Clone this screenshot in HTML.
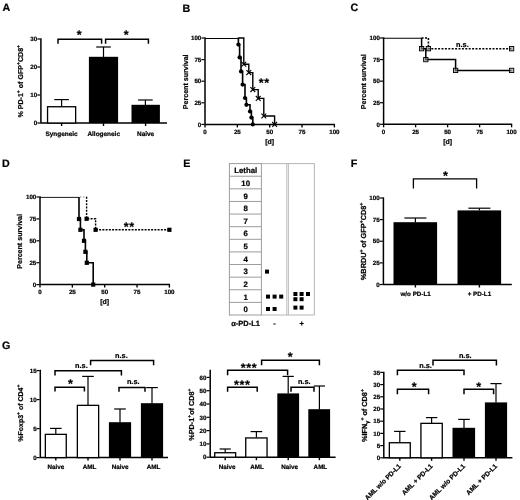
<!DOCTYPE html>
<html lang="en"><head><meta charset="utf-8"><title>Figure</title>
<style>
html,body{margin:0;padding:0;background:#fff;}
body{width:520px;height:500px;overflow:hidden;}
svg{display:block;text-rendering:geometricPrecision;font-family:"Liberation Sans",Arial,Helvetica,sans-serif;font-weight:bold;}
</style></head><body>
<svg width="520" height="500" viewBox="0 0 520 500" stroke="#000" fill="#000">
<defs><filter id="soft" x="0" y="0" width="520" height="500" filterUnits="userSpaceOnUse"><feGaussianBlur stdDeviation="0.35"/></filter></defs>
<rect x="0" y="0" width="520" height="500" fill="#fff" stroke="none"/>
<g id="fig" filter="url(#soft)">
<text stroke="#000" stroke-width="0.22" x="2.50" y="10.70" font-size="10.7" text-anchor="start" >A</text>
<text stroke="#000" stroke-width="0.22" x="182.40" y="12.20" font-size="10.7" text-anchor="start" >B</text>
<text stroke="#000" stroke-width="0.22" x="350.40" y="11.20" font-size="10.7" text-anchor="start" >C</text>
<text stroke="#000" stroke-width="0.22" x="1.90" y="167.10" font-size="10.7" text-anchor="start" >D</text>
<text stroke="#000" stroke-width="0.22" x="183.20" y="167.20" font-size="10.7" text-anchor="start" >E</text>
<text stroke="#000" stroke-width="0.22" x="350.80" y="167.20" font-size="10.7" text-anchor="start" >F</text>
<text stroke="#000" stroke-width="0.22" x="2.00" y="349.20" font-size="10.7" text-anchor="start" >G</text>
<path d="M40.90 38.25V123.00H167.00" stroke-width="1.5" fill="none" stroke-linejoin="miter"/>
<line x1="37.30" y1="39.00" x2="40.30" y2="39.00" stroke-width="1.2" />
<text stroke="#000" stroke-width="0.22" x="37.20" y="41.23" font-size="6.2" text-anchor="end" >30</text>
<line x1="37.30" y1="67.00" x2="40.30" y2="67.00" stroke-width="1.2" />
<text stroke="#000" stroke-width="0.22" x="37.20" y="69.23" font-size="6.2" text-anchor="end" >20</text>
<line x1="37.30" y1="95.00" x2="40.30" y2="95.00" stroke-width="1.2" />
<text stroke="#000" stroke-width="0.22" x="37.20" y="97.23" font-size="6.2" text-anchor="end" >10</text>
<line x1="37.30" y1="123.00" x2="40.30" y2="123.00" stroke-width="1.2" />
<text stroke="#000" stroke-width="0.22" x="37.20" y="125.23" font-size="6.2" text-anchor="end" >0</text>
<line x1="61.60" y1="123.00" x2="61.60" y2="126.00" stroke-width="1.4" />
<line x1="103.50" y1="123.00" x2="103.50" y2="126.00" stroke-width="1.4" />
<line x1="145.60" y1="123.00" x2="145.60" y2="126.00" stroke-width="1.4" />
<line x1="61.60" y1="99.60" x2="61.60" y2="106.40" stroke-width="1.2" />
<line x1="54.30" y1="99.60" x2="68.90" y2="99.60" stroke-width="1.2" />
<rect x="47.55" y="106.75" width="28.10" height="16.25" fill="#fff" stroke-width="1.3" />
<line x1="103.50" y1="47.00" x2="103.50" y2="57.00" stroke-width="1.2" />
<line x1="96.20" y1="47.00" x2="110.80" y2="47.00" stroke-width="1.2" />
<rect x="88.90" y="56.80" width="29.20" height="66.20" fill="#000" stroke-width="0" stroke="none"/>
<line x1="145.40" y1="100.00" x2="145.40" y2="105.00" stroke-width="1.2" />
<line x1="138.10" y1="100.00" x2="152.70" y2="100.00" stroke-width="1.2" />
<rect x="131.50" y="104.80" width="28.40" height="18.20" fill="#000" stroke-width="0" stroke="none"/>
<text stroke="#000" stroke-width="0.22" x="61.60" y="135.60" font-size="6.45" text-anchor="middle" >Syngeneic</text>
<text stroke="#000" stroke-width="0.22" x="103.70" y="135.60" font-size="6.45" text-anchor="middle" >Allogeneic</text>
<text stroke="#000" stroke-width="0.22" x="145.60" y="135.60" font-size="6.45" text-anchor="middle" >Naive</text>
<path d="M58.00 43.80V39.30H101.60V43.80" stroke-width="1.5" fill="none" />
<path d="M105.60 43.80V39.30H148.40V43.80" stroke-width="1.5" fill="none" />
<text stroke="#000" stroke-width="0.22" x="79.20" y="39.48" font-size="12.5" text-anchor="middle" >*</text>
<text stroke="#000" stroke-width="0.22" x="126.20" y="39.48" font-size="12.5" text-anchor="middle" >*</text>
<text stroke="#000" stroke-width="0.22" x="23.40" y="81.30" font-size="7.1" text-anchor="middle" transform="rotate(-90 23.40 81.30)" >% PD-1<tspan font-size="4.97" dy="-2.98">+</tspan><tspan font-size="7.1" dy="2.98">​</tspan> of GFP<tspan font-size="4.97" dy="-2.98">+</tspan><tspan font-size="7.1" dy="2.98">​</tspan>CD8<tspan font-size="4.97" dy="-2.98">+</tspan><tspan font-size="7.1" dy="2.98">​</tspan></text>
<path d="M205.00 37.25V124.40H335.00" stroke-width="1.5" fill="none" stroke-linejoin="miter"/>
<line x1="201.40" y1="38.00" x2="204.40" y2="38.00" stroke-width="1.2" />
<text stroke="#000" stroke-width="0.22" x="201.30" y="40.23" font-size="6.2" text-anchor="end" >100</text>
<line x1="201.40" y1="59.60" x2="204.40" y2="59.60" stroke-width="1.2" />
<text stroke="#000" stroke-width="0.22" x="201.30" y="61.83" font-size="6.2" text-anchor="end" >75</text>
<line x1="201.40" y1="81.20" x2="204.40" y2="81.20" stroke-width="1.2" />
<text stroke="#000" stroke-width="0.22" x="201.30" y="83.43" font-size="6.2" text-anchor="end" >50</text>
<line x1="201.40" y1="102.80" x2="204.40" y2="102.80" stroke-width="1.2" />
<text stroke="#000" stroke-width="0.22" x="201.30" y="105.03" font-size="6.2" text-anchor="end" >25</text>
<line x1="201.40" y1="124.40" x2="204.40" y2="124.40" stroke-width="1.2" />
<text stroke="#000" stroke-width="0.22" x="201.30" y="126.63" font-size="6.2" text-anchor="end" >0</text>
<line x1="205.00" y1="124.40" x2="205.00" y2="127.40" stroke-width="1.35" />
<text stroke="#000" stroke-width="0.22" x="205.00" y="133.90" font-size="6.2" text-anchor="middle" >0</text>
<line x1="237.35" y1="124.40" x2="237.35" y2="127.40" stroke-width="1.35" />
<text stroke="#000" stroke-width="0.22" x="237.35" y="133.90" font-size="6.2" text-anchor="middle" >25</text>
<line x1="269.70" y1="124.40" x2="269.70" y2="127.40" stroke-width="1.35" />
<text stroke="#000" stroke-width="0.22" x="269.70" y="133.90" font-size="6.2" text-anchor="middle" >50</text>
<line x1="302.05" y1="124.40" x2="302.05" y2="127.40" stroke-width="1.35" />
<text stroke="#000" stroke-width="0.22" x="302.05" y="133.90" font-size="6.2" text-anchor="middle" >75</text>
<line x1="334.40" y1="124.40" x2="334.40" y2="127.40" stroke-width="1.35" />
<text stroke="#000" stroke-width="0.22" x="334.40" y="133.90" font-size="6.2" text-anchor="middle" >100</text>
<text stroke="#000" stroke-width="0.22" x="269.60" y="143.80" font-size="6.9" text-anchor="middle" >[d]</text>
<text stroke="#000" stroke-width="0.22" x="187.90" y="81.80" font-size="7.1" text-anchor="middle" transform="rotate(-90 187.90 81.80)" >Percent survival</text>
<line x1="205.00" y1="38.50" x2="238.40" y2="38.50" stroke-width="1.0" />
<path d="M238.40 37.50H238.40V44.60H239.60V57.40H241.00V71.40H242.60V84.60H245.00V98.00H246.40V104.80H250.00V111.40H251.40V117.60H252.80V124.40" stroke-width="1.6" fill="none" />
<circle cx="238.40" cy="44.60" r="2.1" stroke="none"/>
<circle cx="239.60" cy="57.40" r="2.1" stroke="none"/>
<circle cx="241.00" cy="71.40" r="2.1" stroke="none"/>
<circle cx="242.60" cy="84.60" r="2.1" stroke="none"/>
<circle cx="245.00" cy="98.00" r="2.1" stroke="none"/>
<circle cx="246.40" cy="104.80" r="2.1" stroke="none"/>
<circle cx="250.00" cy="111.40" r="2.1" stroke="none"/>
<circle cx="251.40" cy="117.60" r="2.1" stroke="none"/>
<circle cx="252.80" cy="124.40" r="2.1" stroke="none"/>
<path d="M238.40 38.00H243.80V64.20H248.80V72.60H252.80V89.60H258.20V98.40H263.80V116.00H274.60V124.40" stroke-width="1.4" fill="none" />
<path d="M241.40 61.80L246.20 66.60M241.40 66.60L246.20 61.80" stroke-width="1.1" fill="none" />
<path d="M246.40 70.20L251.20 75.00M246.40 75.00L251.20 70.20" stroke-width="1.1" fill="none" />
<path d="M250.40 87.20L255.20 92.00M250.40 92.00L255.20 87.20" stroke-width="1.1" fill="none" />
<path d="M255.80 96.00L260.60 100.80M255.80 100.80L260.60 96.00" stroke-width="1.1" fill="none" />
<path d="M261.40 113.60L266.20 118.40M261.40 118.40L266.20 113.60" stroke-width="1.1" fill="none" />
<path d="M272.20 122.00L277.00 126.80M272.20 126.80L277.00 122.00" stroke-width="1.1" fill="none" />
<text stroke="#000" stroke-width="0.22" x="264.20" y="87.47" font-size="12.5" text-anchor="middle" letter-spacing="0.6">**</text>
<path d="M383.60 37.25V124.30H512.20" stroke-width="1.5" fill="none" stroke-linejoin="miter"/>
<line x1="380.00" y1="38.00" x2="383.00" y2="38.00" stroke-width="1.2" />
<text stroke="#000" stroke-width="0.22" x="379.90" y="40.23" font-size="6.2" text-anchor="end" >100</text>
<line x1="380.00" y1="59.58" x2="383.00" y2="59.58" stroke-width="1.2" />
<text stroke="#000" stroke-width="0.22" x="379.90" y="61.81" font-size="6.2" text-anchor="end" >75</text>
<line x1="380.00" y1="81.15" x2="383.00" y2="81.15" stroke-width="1.2" />
<text stroke="#000" stroke-width="0.22" x="379.90" y="83.38" font-size="6.2" text-anchor="end" >50</text>
<line x1="380.00" y1="102.72" x2="383.00" y2="102.72" stroke-width="1.2" />
<text stroke="#000" stroke-width="0.22" x="379.90" y="104.96" font-size="6.2" text-anchor="end" >25</text>
<line x1="380.00" y1="124.30" x2="383.00" y2="124.30" stroke-width="1.2" />
<text stroke="#000" stroke-width="0.22" x="379.90" y="126.53" font-size="6.2" text-anchor="end" >0</text>
<line x1="383.60" y1="124.30" x2="383.60" y2="127.30" stroke-width="1.35" />
<text stroke="#000" stroke-width="0.22" x="383.60" y="133.80" font-size="6.2" text-anchor="middle" >0</text>
<line x1="415.60" y1="124.30" x2="415.60" y2="127.30" stroke-width="1.35" />
<text stroke="#000" stroke-width="0.22" x="415.60" y="133.80" font-size="6.2" text-anchor="middle" >25</text>
<line x1="447.60" y1="124.30" x2="447.60" y2="127.30" stroke-width="1.35" />
<text stroke="#000" stroke-width="0.22" x="447.60" y="133.80" font-size="6.2" text-anchor="middle" >50</text>
<line x1="479.60" y1="124.30" x2="479.60" y2="127.30" stroke-width="1.35" />
<text stroke="#000" stroke-width="0.22" x="479.60" y="133.80" font-size="6.2" text-anchor="middle" >75</text>
<line x1="511.60" y1="124.30" x2="511.60" y2="127.30" stroke-width="1.35" />
<text stroke="#000" stroke-width="0.22" x="511.60" y="133.80" font-size="6.2" text-anchor="middle" >100</text>
<text stroke="#000" stroke-width="0.22" x="447.60" y="143.70" font-size="6.9" text-anchor="middle" >[d]</text>
<text stroke="#000" stroke-width="0.22" x="365.80" y="81.75" font-size="7.1" text-anchor="middle" transform="rotate(-90 365.80 81.75)" >Percent survival</text>
<line x1="383.60" y1="38.30" x2="421.60" y2="38.30" stroke-width="1.1" />
<path d="M421.60 37.80H421.60V48.70H425.80V59.60H455.60V70.40H511.60V70.40" stroke-width="1.5" fill="none" />
<path d="M421.60 38.00H428.40V48.70H511.60V48.70" stroke-width="1.6" fill="none" stroke-dasharray="2 1.4"/>
<rect x="419.45" y="46.55" width="4.30" height="4.30" fill="#909090" stroke-width="0.9" fill-opacity="0.6"/>
<rect x="423.65" y="57.45" width="4.30" height="4.30" fill="#909090" stroke-width="0.9" fill-opacity="0.6"/>
<rect x="453.45" y="68.25" width="4.30" height="4.30" fill="#909090" stroke-width="0.9" fill-opacity="0.6"/>
<rect x="509.45" y="68.25" width="4.30" height="4.30" fill="#909090" stroke-width="0.9" fill-opacity="0.6"/>
<rect x="426.25" y="46.55" width="4.30" height="4.30" fill="#909090" stroke-width="0.9" fill-opacity="0.6"/>
<rect x="509.45" y="46.55" width="4.30" height="4.30" fill="#909090" stroke-width="0.9" fill-opacity="0.6"/>
<text stroke="#000" stroke-width="0.22" x="462.40" y="46.60" font-size="7.3" text-anchor="middle" >n.s.</text>
<path d="M40.00 196.25V284.60H170.00" stroke-width="1.5" fill="none" stroke-linejoin="miter"/>
<line x1="36.40" y1="197.00" x2="39.40" y2="197.00" stroke-width="1.2" />
<text stroke="#000" stroke-width="0.22" x="36.30" y="199.23" font-size="6.2" text-anchor="end" >100</text>
<line x1="36.40" y1="218.90" x2="39.40" y2="218.90" stroke-width="1.2" />
<text stroke="#000" stroke-width="0.22" x="36.30" y="221.13" font-size="6.2" text-anchor="end" >75</text>
<line x1="36.40" y1="240.80" x2="39.40" y2="240.80" stroke-width="1.2" />
<text stroke="#000" stroke-width="0.22" x="36.30" y="243.03" font-size="6.2" text-anchor="end" >50</text>
<line x1="36.40" y1="262.70" x2="39.40" y2="262.70" stroke-width="1.2" />
<text stroke="#000" stroke-width="0.22" x="36.30" y="264.93" font-size="6.2" text-anchor="end" >25</text>
<line x1="36.40" y1="284.60" x2="39.40" y2="284.60" stroke-width="1.2" />
<text stroke="#000" stroke-width="0.22" x="36.30" y="286.83" font-size="6.2" text-anchor="end" >0</text>
<line x1="40.00" y1="284.60" x2="40.00" y2="287.60" stroke-width="1.35" />
<text stroke="#000" stroke-width="0.22" x="40.00" y="294.10" font-size="6.2" text-anchor="middle" >0</text>
<line x1="72.35" y1="284.60" x2="72.35" y2="287.60" stroke-width="1.35" />
<text stroke="#000" stroke-width="0.22" x="72.35" y="294.10" font-size="6.2" text-anchor="middle" >25</text>
<line x1="104.70" y1="284.60" x2="104.70" y2="287.60" stroke-width="1.35" />
<text stroke="#000" stroke-width="0.22" x="104.70" y="294.10" font-size="6.2" text-anchor="middle" >50</text>
<line x1="137.05" y1="284.60" x2="137.05" y2="287.60" stroke-width="1.35" />
<text stroke="#000" stroke-width="0.22" x="137.05" y="294.10" font-size="6.2" text-anchor="middle" >75</text>
<line x1="169.40" y1="284.60" x2="169.40" y2="287.60" stroke-width="1.35" />
<text stroke="#000" stroke-width="0.22" x="169.40" y="294.10" font-size="6.2" text-anchor="middle" >100</text>
<text stroke="#000" stroke-width="0.22" x="104.60" y="304.00" font-size="6.9" text-anchor="middle" >[d]</text>
<text stroke="#000" stroke-width="0.22" x="22.30" y="241.40" font-size="7.1" text-anchor="middle" transform="rotate(-90 22.30 241.40)" >Percent survival</text>
<line x1="40.00" y1="197.40" x2="79.00" y2="197.40" stroke-width="0.9" />
<path d="M79.00 196.90H79.00V219.00H80.40V229.80H84.00V240.80H85.40V251.80H86.80V262.80H93.20V284.60" stroke-width="1.6" fill="none" />
<line x1="80.00" y1="197.00" x2="86.60" y2="197.00" stroke-width="1.0" stroke="#8a8a8a" stroke-dasharray="1.4 1.6"/>
<path d="M86.60 196.80H86.60V218.80H95.60V229.80H169.40V229.80" stroke-width="1.4" fill="none" stroke-dasharray="2 1.25"/>
<rect x="76.90" y="216.90" width="4.20" height="4.20" fill="#000" stroke-width="0" stroke="none"/>
<rect x="78.30" y="227.70" width="4.20" height="4.20" fill="#000" stroke-width="0" stroke="none"/>
<rect x="81.90" y="238.70" width="4.20" height="4.20" fill="#000" stroke-width="0" stroke="none"/>
<rect x="83.30" y="249.70" width="4.20" height="4.20" fill="#000" stroke-width="0" stroke="none"/>
<rect x="84.70" y="260.70" width="4.20" height="4.20" fill="#000" stroke-width="0" stroke="none"/>
<rect x="91.10" y="282.50" width="4.20" height="4.20" fill="#000" stroke-width="0" stroke="none"/>
<rect x="84.50" y="216.70" width="4.20" height="4.20" fill="#000" stroke-width="0" stroke="none"/>
<rect x="93.50" y="227.70" width="4.20" height="4.20" fill="#000" stroke-width="0" stroke="none"/>
<rect x="167.30" y="227.70" width="4.20" height="4.20" fill="#000" stroke-width="0" stroke="none"/>
<text stroke="#000" stroke-width="0.22" x="129.20" y="231.07" font-size="12.5" text-anchor="middle" letter-spacing="0.6">**</text>
<g stroke="#b4b4b4" fill="none">
<line x1="261.40" y1="163.60" x2="314.40" y2="163.60" stroke-width="1.0" />
<line x1="261.40" y1="315.00" x2="314.40" y2="315.00" stroke-width="1.0" />
<line x1="314.40" y1="163.60" x2="314.40" y2="315.00" stroke-width="1.0" />
<line x1="286.80" y1="163.60" x2="286.80" y2="315.00" stroke-width="0.9" />
<line x1="288.40" y1="163.60" x2="288.40" y2="315.00" stroke-width="0.9" />
</g>
<g stroke="#9c9c9c" fill="none">
<line x1="229.40" y1="163.60" x2="261.40" y2="163.60" stroke-width="1.0" />
<line x1="229.40" y1="315.00" x2="261.40" y2="315.00" stroke-width="1.0" />
<line x1="229.40" y1="163.10" x2="229.40" y2="315.50" stroke-width="1.0" />
<line x1="261.40" y1="163.10" x2="261.40" y2="315.50" stroke-width="1.0" />
<line x1="229.40" y1="176.22" x2="261.40" y2="176.22" stroke-width="1.0" />
<line x1="229.40" y1="188.83" x2="261.40" y2="188.83" stroke-width="1.0" />
<line x1="229.40" y1="201.45" x2="261.40" y2="201.45" stroke-width="1.0" />
<line x1="229.40" y1="214.07" x2="261.40" y2="214.07" stroke-width="1.0" />
<line x1="229.40" y1="226.68" x2="261.40" y2="226.68" stroke-width="1.0" />
<line x1="229.40" y1="239.30" x2="261.40" y2="239.30" stroke-width="1.0" />
<line x1="229.40" y1="251.92" x2="261.40" y2="251.92" stroke-width="1.0" />
<line x1="229.40" y1="264.53" x2="261.40" y2="264.53" stroke-width="1.0" />
<line x1="229.40" y1="277.15" x2="261.40" y2="277.15" stroke-width="1.0" />
<line x1="229.40" y1="289.77" x2="261.40" y2="289.77" stroke-width="1.0" />
<line x1="229.40" y1="302.38" x2="261.40" y2="302.38" stroke-width="1.0" />
</g>
<text stroke="#000" stroke-width="0.22" x="245.70" y="173.41" font-size="7.8" text-anchor="middle" >Lethal</text>
<text stroke="#000" stroke-width="0.22" x="245.70" y="186.03" font-size="7.8" text-anchor="middle" >10</text>
<text stroke="#000" stroke-width="0.22" x="245.70" y="198.64" font-size="7.8" text-anchor="middle" >9</text>
<text stroke="#000" stroke-width="0.22" x="245.70" y="211.26" font-size="7.8" text-anchor="middle" >8</text>
<text stroke="#000" stroke-width="0.22" x="245.70" y="223.88" font-size="7.8" text-anchor="middle" >7</text>
<text stroke="#000" stroke-width="0.22" x="245.70" y="236.49" font-size="7.8" text-anchor="middle" >6</text>
<text stroke="#000" stroke-width="0.22" x="245.70" y="249.11" font-size="7.8" text-anchor="middle" >5</text>
<text stroke="#000" stroke-width="0.22" x="245.70" y="261.72" font-size="7.8" text-anchor="middle" >4</text>
<text stroke="#000" stroke-width="0.22" x="245.70" y="274.34" font-size="7.8" text-anchor="middle" >3</text>
<text stroke="#000" stroke-width="0.22" x="245.70" y="286.96" font-size="7.8" text-anchor="middle" >2</text>
<text stroke="#000" stroke-width="0.22" x="245.70" y="299.57" font-size="7.8" text-anchor="middle" >1</text>
<text stroke="#000" stroke-width="0.22" x="245.70" y="312.19" font-size="7.8" text-anchor="middle" >0</text>
<rect x="265.00" y="269.60" width="4.00" height="4.00" fill="#000" stroke-width="0" stroke="none"/>
<rect x="266.00" y="294.60" width="4.00" height="4.00" fill="#000" stroke-width="0" stroke="none"/>
<rect x="272.60" y="294.60" width="4.00" height="4.00" fill="#000" stroke-width="0" stroke="none"/>
<rect x="279.20" y="294.60" width="4.00" height="4.00" fill="#000" stroke-width="0" stroke="none"/>
<rect x="266.00" y="307.00" width="4.00" height="4.00" fill="#000" stroke-width="0" stroke="none"/>
<rect x="272.60" y="307.00" width="4.00" height="4.00" fill="#000" stroke-width="0" stroke="none"/>
<rect x="293.40" y="292.00" width="4.00" height="4.00" fill="#000" stroke-width="0" stroke="none"/>
<rect x="299.60" y="292.00" width="4.00" height="4.00" fill="#000" stroke-width="0" stroke="none"/>
<rect x="306.00" y="292.00" width="4.00" height="4.00" fill="#000" stroke-width="0" stroke="none"/>
<rect x="293.40" y="297.20" width="4.00" height="4.00" fill="#000" stroke-width="0" stroke="none"/>
<rect x="299.60" y="297.20" width="4.00" height="4.00" fill="#000" stroke-width="0" stroke="none"/>
<rect x="293.40" y="305.60" width="4.00" height="4.00" fill="#000" stroke-width="0" stroke="none"/>
<rect x="299.60" y="305.60" width="4.00" height="4.00" fill="#000" stroke-width="0" stroke="none"/>
<text stroke="#000" stroke-width="0.22" x="245.60" y="326.00" font-size="7.5" text-anchor="middle" >α-PD-L1</text>
<text stroke="#000" stroke-width="0.22" x="274.40" y="326.00" font-size="7.5" text-anchor="middle" >-</text>
<text stroke="#000" stroke-width="0.22" x="301.60" y="326.00" font-size="7.5" text-anchor="middle" >+</text>
<path d="M383.40 197.25V284.50H511.80" stroke-width="1.5" fill="none" stroke-linejoin="miter"/>
<line x1="379.80" y1="198.00" x2="382.80" y2="198.00" stroke-width="1.2" />
<text stroke="#000" stroke-width="0.22" x="379.70" y="200.23" font-size="6.2" text-anchor="end" >100</text>
<line x1="379.80" y1="219.62" x2="382.80" y2="219.62" stroke-width="1.2" />
<text stroke="#000" stroke-width="0.22" x="379.70" y="221.86" font-size="6.2" text-anchor="end" >75</text>
<line x1="379.80" y1="241.25" x2="382.80" y2="241.25" stroke-width="1.2" />
<text stroke="#000" stroke-width="0.22" x="379.70" y="243.48" font-size="6.2" text-anchor="end" >50</text>
<line x1="379.80" y1="262.88" x2="382.80" y2="262.88" stroke-width="1.2" />
<text stroke="#000" stroke-width="0.22" x="379.70" y="265.11" font-size="6.2" text-anchor="end" >25</text>
<line x1="379.80" y1="284.50" x2="382.80" y2="284.50" stroke-width="1.2" />
<text stroke="#000" stroke-width="0.22" x="379.70" y="286.73" font-size="6.2" text-anchor="end" >0</text>
<line x1="415.40" y1="284.50" x2="415.40" y2="287.50" stroke-width="1.4" />
<line x1="479.40" y1="284.50" x2="479.40" y2="287.50" stroke-width="1.4" />
<line x1="415.40" y1="218.00" x2="415.40" y2="222.40" stroke-width="1.2" />
<line x1="404.40" y1="218.00" x2="426.40" y2="218.00" stroke-width="1.2" />
<rect x="393.50" y="222.20" width="43.60" height="62.30" fill="#000" stroke-width="0" stroke="none"/>
<line x1="479.40" y1="208.20" x2="479.40" y2="210.60" stroke-width="1.2" />
<line x1="468.40" y1="208.20" x2="490.40" y2="208.20" stroke-width="1.2" />
<rect x="457.50" y="210.40" width="43.60" height="74.10" fill="#000" stroke-width="0" stroke="none"/>
<text stroke="#000" stroke-width="0.22" x="415.60" y="296.30" font-size="6.25" text-anchor="middle" >w/o PD-L1</text>
<text stroke="#000" stroke-width="0.22" x="479.40" y="296.30" font-size="6.25" text-anchor="middle" >+ PD-L1</text>
<path d="M413.40 188.60V178.80H476.60V188.60" stroke-width="1.3" fill="none" />
<text stroke="#000" stroke-width="0.22" x="445.40" y="180.07" font-size="12.5" text-anchor="middle" >*</text>
<text stroke="#000" stroke-width="0.22" x="365.90" y="241.40" font-size="7.35" text-anchor="middle" transform="rotate(-90 365.90 241.40)" >%BRDU<tspan font-size="5.14" dy="-3.09">+</tspan><tspan font-size="7.35" dy="3.09">​</tspan> of GFP<tspan font-size="5.14" dy="-3.09">+</tspan><tspan font-size="7.35" dy="3.09">​</tspan>CD8<tspan font-size="5.14" dy="-3.09">+</tspan><tspan font-size="7.35" dy="3.09">​</tspan></text>
<path d="M40.30 369.85V457.60H168.00" stroke-width="1.5" fill="none" stroke-linejoin="miter"/>
<line x1="36.70" y1="370.60" x2="39.70" y2="370.60" stroke-width="1.2" />
<text stroke="#000" stroke-width="0.22" x="36.60" y="372.83" font-size="6.2" text-anchor="end" >15</text>
<line x1="36.70" y1="399.60" x2="39.70" y2="399.60" stroke-width="1.2" />
<text stroke="#000" stroke-width="0.22" x="36.60" y="401.83" font-size="6.2" text-anchor="end" >10</text>
<line x1="36.70" y1="428.60" x2="39.70" y2="428.60" stroke-width="1.2" />
<text stroke="#000" stroke-width="0.22" x="36.60" y="430.83" font-size="6.2" text-anchor="end" >5</text>
<line x1="36.70" y1="457.60" x2="39.70" y2="457.60" stroke-width="1.2" />
<text stroke="#000" stroke-width="0.22" x="36.60" y="459.83" font-size="6.2" text-anchor="end" >0</text>
<line x1="55.80" y1="457.60" x2="55.80" y2="460.60" stroke-width="1.4" />
<line x1="88.00" y1="457.60" x2="88.00" y2="460.60" stroke-width="1.4" />
<line x1="120.00" y1="457.60" x2="120.00" y2="460.60" stroke-width="1.4" />
<line x1="152.00" y1="457.60" x2="152.00" y2="460.60" stroke-width="1.4" />
<line x1="55.80" y1="428.40" x2="55.80" y2="434.00" stroke-width="1.2" />
<line x1="50.00" y1="428.40" x2="61.60" y2="428.40" stroke-width="1.2" />
<rect x="45.35" y="434.35" width="20.90" height="23.25" fill="#fff" stroke-width="1.3" />
<line x1="88.00" y1="376.40" x2="88.00" y2="405.00" stroke-width="1.2" />
<line x1="82.20" y1="376.40" x2="93.80" y2="376.40" stroke-width="1.2" />
<rect x="77.35" y="405.35" width="21.30" height="52.25" fill="#fff" stroke-width="1.3" />
<line x1="120.00" y1="409.00" x2="120.00" y2="422.40" stroke-width="1.2" />
<line x1="114.20" y1="409.00" x2="125.80" y2="409.00" stroke-width="1.2" />
<rect x="108.90" y="422.20" width="22.20" height="35.40" fill="#000" stroke-width="0" stroke="none"/>
<line x1="152.00" y1="387.60" x2="152.00" y2="403.40" stroke-width="1.2" />
<line x1="146.20" y1="387.60" x2="157.80" y2="387.60" stroke-width="1.2" />
<rect x="140.90" y="403.20" width="22.20" height="54.40" fill="#000" stroke-width="0" stroke="none"/>
<text stroke="#000" stroke-width="0.22" x="55.80" y="468.80" font-size="6.3" text-anchor="middle" >Naive</text>
<text stroke="#000" stroke-width="0.22" x="89.60" y="468.80" font-size="6.3" text-anchor="middle" >AML</text>
<text stroke="#000" stroke-width="0.22" x="120.20" y="468.80" font-size="6.3" text-anchor="middle" >Naive</text>
<text stroke="#000" stroke-width="0.22" x="153.60" y="468.80" font-size="6.3" text-anchor="middle" >AML</text>
<path d="M55.00 375.40V370.80H121.40V375.40" stroke-width="1.5" fill="none" />
<path d="M55.00 391.60V387.20H84.40V391.60" stroke-width="1.5" fill="none" />
<path d="M90.60 365.20V360.40H153.60V365.20" stroke-width="1.5" fill="none" />
<path d="M119.00 391.80V387.40H145.00V391.80" stroke-width="1.5" fill="none" />
<text stroke="#000" stroke-width="0.22" x="70.40" y="388.27" font-size="12.5" text-anchor="middle" >*</text>
<text stroke="#000" stroke-width="0.22" x="81.40" y="367.60" font-size="7.3" text-anchor="middle" >n.s.</text>
<text stroke="#000" stroke-width="0.22" x="121.40" y="357.60" font-size="7.3" text-anchor="middle" >n.s.</text>
<text stroke="#000" stroke-width="0.22" x="133.20" y="384.40" font-size="7.3" text-anchor="middle" >n.s.</text>
<text stroke="#000" stroke-width="0.22" x="23.40" y="413.20" font-size="7.0" text-anchor="middle" transform="rotate(-90 23.40 413.20)" >%Foxp3<tspan font-size="4.90" dy="-2.94">+</tspan><tspan font-size="7.0" dy="2.94">​</tspan> of CD4<tspan font-size="4.90" dy="-2.94">+</tspan><tspan font-size="7.0" dy="2.94">​</tspan></text>
<path d="M210.20 369.65V457.20H335.60" stroke-width="1.5" fill="none" stroke-linejoin="miter"/>
<line x1="206.60" y1="377.40" x2="209.60" y2="377.40" stroke-width="1.2" />
<text stroke="#000" stroke-width="0.22" x="206.50" y="379.63" font-size="6.2" text-anchor="end" >60</text>
<line x1="206.60" y1="390.70" x2="209.60" y2="390.70" stroke-width="1.2" />
<text stroke="#000" stroke-width="0.22" x="206.50" y="392.93" font-size="6.2" text-anchor="end" >50</text>
<line x1="206.60" y1="404.00" x2="209.60" y2="404.00" stroke-width="1.2" />
<text stroke="#000" stroke-width="0.22" x="206.50" y="406.23" font-size="6.2" text-anchor="end" >40</text>
<line x1="206.60" y1="417.30" x2="209.60" y2="417.30" stroke-width="1.2" />
<text stroke="#000" stroke-width="0.22" x="206.50" y="419.53" font-size="6.2" text-anchor="end" >30</text>
<line x1="206.60" y1="430.60" x2="209.60" y2="430.60" stroke-width="1.2" />
<text stroke="#000" stroke-width="0.22" x="206.50" y="432.83" font-size="6.2" text-anchor="end" >20</text>
<line x1="206.60" y1="443.90" x2="209.60" y2="443.90" stroke-width="1.2" />
<text stroke="#000" stroke-width="0.22" x="206.50" y="446.13" font-size="6.2" text-anchor="end" >10</text>
<line x1="206.60" y1="457.20" x2="209.60" y2="457.20" stroke-width="1.2" />
<text stroke="#000" stroke-width="0.22" x="206.50" y="459.43" font-size="6.2" text-anchor="end" >0</text>
<line x1="225.20" y1="457.20" x2="225.20" y2="460.20" stroke-width="1.4" />
<line x1="256.40" y1="457.20" x2="256.40" y2="460.20" stroke-width="1.4" />
<line x1="288.20" y1="457.20" x2="288.20" y2="460.20" stroke-width="1.4" />
<line x1="319.40" y1="457.20" x2="319.40" y2="460.20" stroke-width="1.4" />
<line x1="225.20" y1="449.00" x2="225.20" y2="452.40" stroke-width="1.2" />
<line x1="219.60" y1="449.00" x2="230.80" y2="449.00" stroke-width="1.2" />
<rect x="214.75" y="452.75" width="20.90" height="4.45" fill="#fff" stroke-width="1.3" />
<line x1="256.40" y1="431.60" x2="256.40" y2="437.60" stroke-width="1.2" />
<line x1="250.60" y1="431.60" x2="262.20" y2="431.60" stroke-width="1.2" />
<rect x="245.75" y="437.95" width="21.30" height="19.25" fill="#fff" stroke-width="1.3" />
<line x1="288.20" y1="376.40" x2="288.20" y2="393.60" stroke-width="1.2" />
<line x1="282.60" y1="376.40" x2="293.80" y2="376.40" stroke-width="1.2" />
<rect x="277.30" y="393.40" width="21.80" height="63.80" fill="#000" stroke-width="0" stroke="none"/>
<line x1="319.40" y1="386.00" x2="319.40" y2="409.40" stroke-width="1.2" />
<line x1="313.80" y1="386.00" x2="325.00" y2="386.00" stroke-width="1.2" />
<rect x="308.30" y="409.20" width="21.80" height="48.00" fill="#000" stroke-width="0" stroke="none"/>
<text stroke="#000" stroke-width="0.22" x="227.20" y="468.80" font-size="6.3" text-anchor="middle" >Naive</text>
<text stroke="#000" stroke-width="0.22" x="257.00" y="468.80" font-size="6.3" text-anchor="middle" >AML</text>
<text stroke="#000" stroke-width="0.22" x="289.60" y="468.80" font-size="6.3" text-anchor="middle" >Naive</text>
<text stroke="#000" stroke-width="0.22" x="320.40" y="468.80" font-size="6.3" text-anchor="middle" >AML</text>
<path d="M227.60 375.20V370.20H287.60V375.20" stroke-width="1.5" fill="none" />
<path d="M227.60 391.80V387.20H257.20V391.80" stroke-width="1.5" fill="none" />
<path d="M261.60 365.20V360.20H319.40V365.20" stroke-width="1.5" fill="none" />
<path d="M291.00 391.80V387.20H314.00V391.80" stroke-width="1.5" fill="none" />
<text stroke="#000" stroke-width="0.22" x="249.00" y="372.07" font-size="12.5" text-anchor="middle" letter-spacing="0.6">***</text>
<text stroke="#000" stroke-width="0.22" x="242.20" y="388.68" font-size="12.5" text-anchor="middle" letter-spacing="0.6">***</text>
<text stroke="#000" stroke-width="0.22" x="290.20" y="361.07" font-size="12.5" text-anchor="middle" >*</text>
<text stroke="#000" stroke-width="0.22" x="304.20" y="384.40" font-size="7.3" text-anchor="middle" >n.s.</text>
<text stroke="#000" stroke-width="0.22" x="193.90" y="414.60" font-size="7.25" text-anchor="middle" transform="rotate(-90 193.90 414.60)" >%PD-1<tspan font-size="5.07" dy="-3.04">+</tspan><tspan font-size="7.25" dy="3.04">​</tspan>of CD8<tspan font-size="5.07" dy="-3.04">+</tspan><tspan font-size="7.25" dy="3.04">​</tspan></text>
<path d="M383.80 371.65V457.80H512.40" stroke-width="1.5" fill="none" stroke-linejoin="miter"/>
<line x1="380.20" y1="372.40" x2="383.20" y2="372.40" stroke-width="1.2" />
<text stroke="#000" stroke-width="0.22" x="380.10" y="374.63" font-size="6.2" text-anchor="end" >35</text>
<line x1="380.20" y1="384.60" x2="383.20" y2="384.60" stroke-width="1.2" />
<text stroke="#000" stroke-width="0.22" x="380.10" y="386.83" font-size="6.2" text-anchor="end" >30</text>
<line x1="380.20" y1="396.80" x2="383.20" y2="396.80" stroke-width="1.2" />
<text stroke="#000" stroke-width="0.22" x="380.10" y="399.03" font-size="6.2" text-anchor="end" >25</text>
<line x1="380.20" y1="409.00" x2="383.20" y2="409.00" stroke-width="1.2" />
<text stroke="#000" stroke-width="0.22" x="380.10" y="411.23" font-size="6.2" text-anchor="end" >20</text>
<line x1="380.20" y1="421.20" x2="383.20" y2="421.20" stroke-width="1.2" />
<text stroke="#000" stroke-width="0.22" x="380.10" y="423.43" font-size="6.2" text-anchor="end" >15</text>
<line x1="380.20" y1="433.40" x2="383.20" y2="433.40" stroke-width="1.2" />
<text stroke="#000" stroke-width="0.22" x="380.10" y="435.63" font-size="6.2" text-anchor="end" >10</text>
<line x1="380.20" y1="445.60" x2="383.20" y2="445.60" stroke-width="1.2" />
<text stroke="#000" stroke-width="0.22" x="380.10" y="447.83" font-size="6.2" text-anchor="end" >5</text>
<line x1="380.20" y1="457.80" x2="383.20" y2="457.80" stroke-width="1.2" />
<text stroke="#000" stroke-width="0.22" x="380.10" y="460.03" font-size="6.2" text-anchor="end" >0</text>
<line x1="399.80" y1="457.80" x2="399.80" y2="460.80" stroke-width="1.4" />
<line x1="431.60" y1="457.80" x2="431.60" y2="460.80" stroke-width="1.4" />
<line x1="464.00" y1="457.80" x2="464.00" y2="460.80" stroke-width="1.4" />
<line x1="496.00" y1="457.80" x2="496.00" y2="460.80" stroke-width="1.4" />
<line x1="399.80" y1="431.40" x2="399.80" y2="442.40" stroke-width="1.2" />
<line x1="394.10" y1="431.40" x2="405.50" y2="431.40" stroke-width="1.2" />
<rect x="389.35" y="442.75" width="20.90" height="15.05" fill="#fff" stroke-width="1.3" />
<line x1="431.60" y1="417.60" x2="431.60" y2="423.00" stroke-width="1.2" />
<line x1="425.90" y1="417.60" x2="437.30" y2="417.60" stroke-width="1.2" />
<rect x="420.95" y="423.35" width="21.30" height="34.45" fill="#fff" stroke-width="1.3" />
<line x1="464.00" y1="419.40" x2="464.00" y2="428.00" stroke-width="1.2" />
<line x1="458.20" y1="419.40" x2="469.80" y2="419.40" stroke-width="1.2" />
<rect x="452.50" y="427.80" width="22.60" height="30.00" fill="#000" stroke-width="0" stroke="none"/>
<line x1="496.00" y1="383.60" x2="496.00" y2="402.60" stroke-width="1.2" />
<line x1="490.40" y1="383.60" x2="501.60" y2="383.60" stroke-width="1.2" />
<rect x="484.90" y="402.40" width="22.20" height="55.40" fill="#000" stroke-width="0" stroke="none"/>
<text stroke="#000" stroke-width="0.22" x="401.40" y="466.60" font-size="6.6" text-anchor="end" transform="rotate(-45 401.40 466.60)" >AML w/o PD-L1</text>
<text stroke="#000" stroke-width="0.22" x="433.20" y="466.60" font-size="6.6" text-anchor="end" transform="rotate(-45 433.20 466.60)" >AML + PD-L1</text>
<text stroke="#000" stroke-width="0.22" x="465.60" y="466.60" font-size="6.6" text-anchor="end" transform="rotate(-45 465.60 466.60)" >AML w/o PD-L1</text>
<text stroke="#000" stroke-width="0.22" x="497.60" y="466.60" font-size="6.6" text-anchor="end" transform="rotate(-45 497.60 466.60)" >AML + PD-L1</text>
<path d="M397.40 375.20V370.20H464.00V375.20" stroke-width="1.5" fill="none" />
<path d="M397.40 394.20V389.20H428.60V394.20" stroke-width="1.5" fill="none" />
<path d="M433.00 365.40V360.20H496.40V365.40" stroke-width="1.5" fill="none" />
<path d="M464.00 394.20V389.20H493.60V394.20" stroke-width="1.5" fill="none" />
<text stroke="#000" stroke-width="0.22" x="414.20" y="391.07" font-size="12.5" text-anchor="middle" >*</text>
<text stroke="#000" stroke-width="0.22" x="478.80" y="391.07" font-size="12.5" text-anchor="middle" >*</text>
<text stroke="#000" stroke-width="0.22" x="425.60" y="367.60" font-size="7.3" text-anchor="middle" >n.s.</text>
<text stroke="#000" stroke-width="0.22" x="465.20" y="357.60" font-size="7.3" text-anchor="middle" >n.s.</text>
<text stroke="#000" stroke-width="0.22" x="366.80" y="415.50" font-size="7.3" text-anchor="middle" transform="rotate(-90 366.80 415.50)" >%IFN<tspan font-size="5.47" dy="1.82">γ</tspan><tspan font-size="7.3" dy="-1.82">​</tspan><tspan font-size="5.11" dy="-3.07">+</tspan><tspan font-size="7.3" dy="3.07">​</tspan> of CD8<tspan font-size="5.11" dy="-3.07">+</tspan><tspan font-size="7.3" dy="3.07">​</tspan></text>
</g>
</svg>
</body></html>
